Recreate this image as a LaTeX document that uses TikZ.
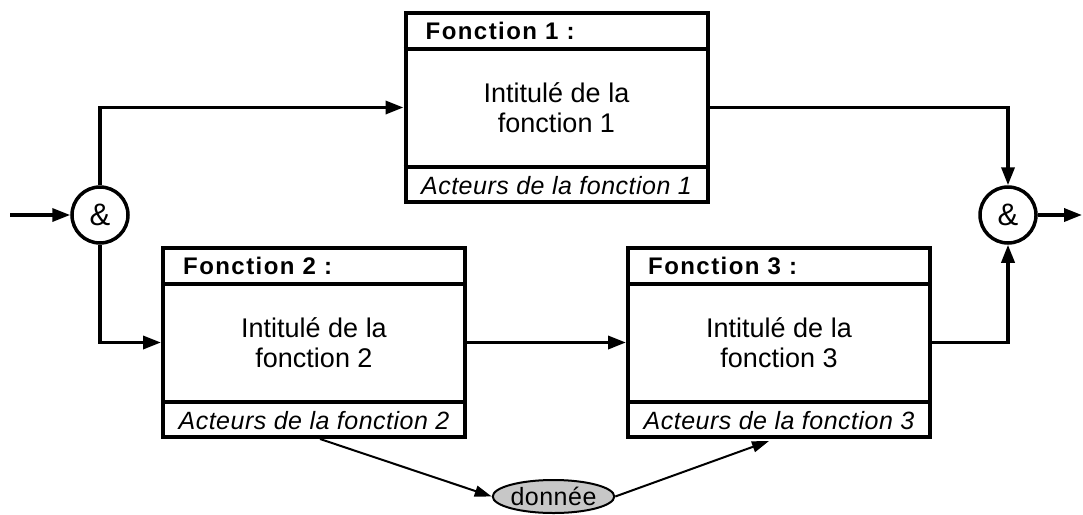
\documentclass[tikz,border=0pt]{standalone}
\usepackage{fontspec}
\setmainfont{Liberation Sans}
\usetikzlibrary{arrows.meta,calc,shapes.geometric}
\tikzset{
  fbox/.style={draw, line width=4pt, minimum width=302pt, minimum height=189pt, inner sep=0pt},
  sepline/.style={line width=3.5pt},
  htext/.style={anchor=west, inner sep=0pt, font=\fontsize{24}{26}\selectfont\bfseries\addfontfeatures{LetterSpace=6}},
  btext/.style={align=center, inner sep=0pt, font=\fontsize{27}{30}\selectfont},
  atext/.style={inner sep=0pt, font=\fontsize{25}{27}\selectfont\itshape\addfontfeatures{LetterSpace=2}},
  andnode/.style={draw, circle, line width=3.5pt, minimum size=56pt, inner sep=0pt, font=\fontsize{31}{32}\selectfont},
  conn/.style={line width=3.5pt, -{Triangle[length=18pt,width=13pt]}},
  thinconn/.style={line width=2pt, -{Triangle[length=17pt,width=11pt]}},
  datanode/.style={draw, ellipse, line width=2pt, fill=black!22, minimum width=113pt, minimum height=33pt, inner sep=0pt, font=\fontsize{25}{27}\selectfont\addfontfeatures{LetterSpace=2}}
}
\begin{document}
\begin{tikzpicture}[x=1pt,y=-1pt]
\useasboundingbox (0,0) rectangle (1083,514);
% boxes
\foreach \n/\cx/\cy/\t in {f1/556.5/107.5/1, f2/314/342.5/2, f3/779/342.5/3}{
  \node[fbox] (\n) at (\cx,\cy) {};
  \draw[sepline] ($(\n.north west)+(0,38)$) -- ($(\n.north east)+(0,38)$);
  \draw[sepline] ($(\n.south west)+(0,-37)$) -- ($(\n.south east)+(0,-37)$);
  \node[htext] (\n h) at ($(\n.north west)+(22,19.5)$) {Fonction \t\ :};
  \node[btext] (\n b) at ($(\n.center)+(0,0.5)$) {Intitulé de la\\fonction \t};
  \node[atext] (\n a) at ($(\n.south)+(0,-18.5)$) {Acteurs de la fonction \t};
}
% and nodes
\node[andnode] (a1) at (100,215) {\&};
\node[andnode] (a2) at (1008,215) {\&};
\coordinate (in) at (10,215);
\coordinate (out) at (1082,215);
% data
\node[datanode] (don) at (553.5,496.5) {donnée};
% connectors
\draw[conn] (in) -- (a1.west);
\draw[conn] (a1.north) |- (f1.west);
\draw[conn] (a1.south) |- (f2.west);
\draw[conn] (f1.east) -| (a2.north);
\draw[conn] (f2.east) -- (f3.west);
\draw[conn] (f3.east) -| (a2.south);
\draw[conn] (a2.east) -- (out);
\draw[thinconn] ($(f2.south)+(6,0)$) -- (don.west);
\draw[thinconn] (don.east) -- ($(f3.south)+(-10,2)$);
\end{tikzpicture}
\end{document}
